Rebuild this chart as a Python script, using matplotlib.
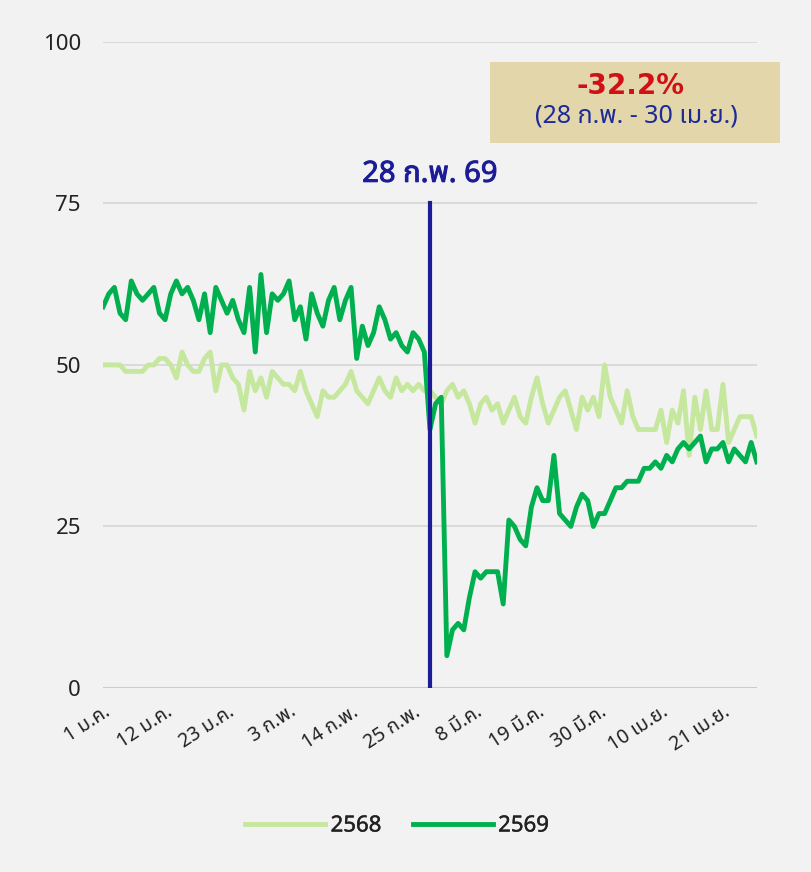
import matplotlib
matplotlib.use("Agg")
from matplotlib import pyplot as plt
from matplotlib import font_manager
import matplotlib.patches as patches
import matplotlib.patheffects as pe

# daily index 0 = 1 Jan ... 116 = 27 Apr
y2568 = [50, 50, 50, 50, 49, 49, 49, 49, 50, 50, 51, 51, 50, 48, 52, 50, 49, 49, 51, 52,
         46, 50, 50, 48, 47, 43, 49, 46, 48, 45, 49, 48, 47, 47, 46, 49, 46, 44, 42, 46,
         45, 45, 46, 47, 49, 46, 45, 44, 46, 48, 46, 45, 48, 46, 47, 46, 47, 46, 46, 45,
         44, 46, 47, 45, 46, 44, 41, 44, 45, 43, 44, 41, 43, 45, 42, 41, 45, 48, 44, 41,
         43, 45, 46, 43, 40, 45, 43, 45, 42, 50, 45, 43, 41, 46, 42, 40, 40, 40, 40, 43,
         38, 43, 41, 46, 36, 45, 40, 46, 40, 40, 47, 38, 40, 42, 42, 42, 39]
y2569 = [59, 61, 62, 58, 57, 63, 61, 60, 61, 62, 58, 57, 61, 63, 61, 62, 60, 57, 61, 55,
         62, 60, 58, 60, 57, 55, 62, 52, 64, 55, 61, 60, 61, 63, 57, 59, 54, 61, 58, 56,
         60, 62, 57, 60, 62, 51, 56, 53, 55, 59, 57, 54, 55, 53, 52, 55, 54, 52, 40, 44,
         45, 5, 9, 10, 9, 14, 18, 17, 18, 18, 18, 13, 26, 25, 23, 22, 28, 31, 29, 29,
         36, 27, 26, 25, 28, 30, 29, 25, 27, 27, 29, 31, 31, 32, 32, 32, 34, 34, 35, 34,
         36, 35, 37, 38, 37, 38, 39, 35, 37, 37, 38, 35, 37, 36, 35, 38, 35]
tick_pos = [0, 11, 22, 33, 44, 55, 66, 77, 88, 99, 110]
tick_labels = ["1 ม.ค.", "12 ม.ค.", "23 ม.ค.", "3 ก.พ.", "14 ก.พ.", "25 ก.พ.",
               "8 มี.ค.", "19 มี.ค.", "30 มี.ค.", "10 เม.ย.", "21 เม.ย."]
event_day = 58
event_label = "28 ก.พ. 69"
change_text = "-32.2%"
period_text = "(28 ก.พ. - 30 เม.ย.)"

# pick a font with Thai glyphs if any is installed
names = set(f.name for f in font_manager.fontManager.ttflist)
thai = [n for n in ["Noto Sans Thai", "Noto Sans Thai Looped", "Noto Serif Thai", "Loma",
                    "Garuda", "Norasi", "Kinnari", "Sarabun", "Tlwg Typo", "Waree"] if n in names]
plt.rcParams['font.family'] = thai + ['DejaVu Sans']

bg = "#f2f2f2"
navy = "#1c1c96"
fig = plt.figure(figsize=(8.12, 8.72), dpi=100, facecolor=bg)
ax = fig.add_axes([0.127, 0.211, 0.805, 0.741], facecolor=bg)

x = list(range(len(y2568)))
ax.plot(x, y2568, color="#c6e89e", lw=3.5, label="2568", solid_joinstyle="round")
ax.plot(x, y2569, color="#00b04f", lw=3.5, label="2569", solid_joinstyle="round")

ax.set_xlim(0, len(y2568) - 1)
ax.set_ylim(0, 100)
ax.set_yticks([0, 25, 50, 75, 100])
for v in [25, 50, 75, 100]:
    ax.axhline(v, color="#d6d6d6", lw=1.2, zorder=0)
ax.axhline(0, color="#c4c8f4", lw=1.5, zorder=0)
for s in ax.spines.values():
    s.set_visible(False)
ax.tick_params(axis="y", length=0, pad=16, labelsize=16, labelcolor="#222222")
ax.set_xticks(tick_pos)
ax.set_xticklabels(tick_labels, rotation=33, ha="right", rotation_mode="anchor",
                   fontsize=14, color="#222222")
ax.tick_params(axis="x", length=0, pad=10)

ax.plot([event_day, event_day], [0, 75], color=navy, lw=3, zorder=5)
ax.text(event_day, 79.5, event_label, color=navy, fontsize=21, fontweight="bold",
        ha="center", va="center",
        path_effects=[pe.withStroke(linewidth=0.7, foreground=navy)])

fig.patches.append(patches.Rectangle((490 / 812, 1 - 143 / 872), 290 / 812, 81 / 872,
                                     transform=fig.transFigure, facecolor="#e2d6aa",
                                     edgecolor="none"))
fig.text(631 / 812, 1 - 86 / 872, change_text, color="#d10f14", fontsize=20,
         fontweight="bold", ha="center", va="center", family="DejaVu Sans")
fig.text(636 / 812, 1 - 116 / 872, period_text, color="#1c2a96", fontsize=18,
         ha="center", va="center")

leg = ax.legend(loc="center", bbox_to_anchor=(397 / 812, 1 - 826 / 872),
                bbox_transform=fig.transFigure, ncol=2, frameon=False, fontsize=16,
                handlelength=3.6, columnspacing=1.4, handletextpad=0.25)
for t in leg.get_texts():
    t.set_color("#222222")
    t.set_path_effects([pe.withStroke(linewidth=0.3, foreground="#222222")])

fig.savefig("out.png", dpi=100, facecolor=bg)
